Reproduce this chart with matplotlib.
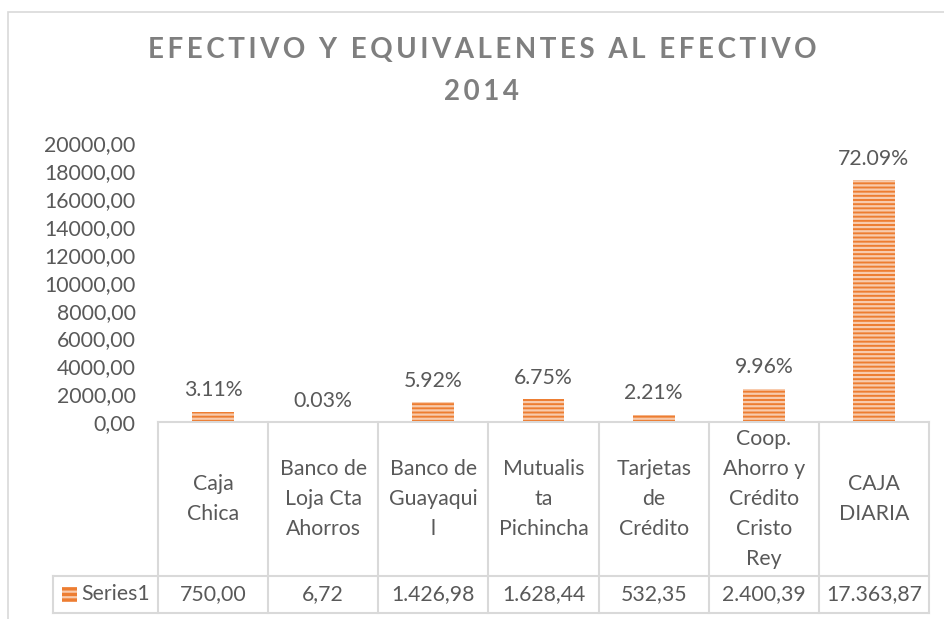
import matplotlib
matplotlib.use("Agg")
from matplotlib import pyplot as plt
from matplotlib.patches import Rectangle

plt.rcParams['font.family'] = ['Lato', 'DejaVu Sans']
plt.rcParams['hatch.linewidth'] = 1.6

# datos
categorias = ['Caja\nChica', 'Banco de\nLoja Cta\nAhorros', 'Banco de\nGuayaqui\nl',
              'Mutualis\nta\nPichincha', 'Tarjetas\nde\nCrédito',
              'Coop.\nAhorro y\nCrédito\nCristo\nRey', 'CAJA\nDIARIA']
valores = [750.00, 6.72, 1426.98, 1628.44, 532.35, 2400.39, 17363.87]
valores_txt = ['750,00', '6,72', '1.426,98', '1.628,44', '532,35', '2.400,39', '17.363,87']
porcentajes = ['3.11%', '0.03%', '5.92%', '6.75%', '2.21%', '9.96%', '72.09%']
serie = 'Series1'
yticks = list(range(0, 20001, 2000))

W, H = 944, 619
GRIS = '#595959'
LINEA = '#D9D9D9'
NARANJA = '#ED7D31'
FS = 15.3

fig = plt.figure(figsize=(W / 100, H / 100), dpi=100)

def fx(px):
    return px / W

def fy(py):
    return 1 - py / H

# marco del grafico
fig.patches.append(Rectangle((fx(8), fy(700)), fx(1000), 688 / H, transform=fig.transFigure,
                             fill=False, edgecolor=LINEA, linewidth=1.2))

# titulo con espaciado
def espaciar(t):
    return '\u2009'.join(t)

fig.text(fx(482), fy(50), espaciar('EFECTIVO Y EQUIVALENTES AL EFECTIVO'), ha='center', va='center',
         fontsize=20, fontweight='bold', color='#7F7F7F')
fig.text(fx(482), fy(92), espaciar('2014'), ha='center', va='center',
         fontsize=20, fontweight='bold', color='#7F7F7F')

x0, x1 = 158, 929
ytop, ybot = 143.5, 422
ax = fig.add_axes([fx(x0), fy(ybot), fx(x1 - x0), (ybot - ytop) / H])
n = len(valores)
xs = list(range(n))
ax.bar(xs, valores, width=0.38, color=NARANJA, edgecolor='#F8CBAD', hatch='----', linewidth=0)
ax.set_xlim(-0.5, n - 0.5)
ax.set_ylim(0, 20000)
ax.set_yticks(yticks)
ax.set_yticklabels([f'{v},00' for v in yticks])
ax.tick_params(axis='y', length=0, pad=16, labelsize=FS, labelcolor=GRIS)
ax.set_xticks([])
for s in ['top', 'right', 'left']:
    ax.spines[s].set_visible(False)
ax.spines['bottom'].set_color(LINEA)
ax.spines['bottom'].set_linewidth(1.5)

for x, v, p in zip(xs, valores, porcentajes):
    ax.annotate(p, (x, v), xytext=(0, 8), textcoords='offset points', ha='center', va='bottom',
                fontsize=FS, color=GRIS)

# tabla de datos
ancho = (x1 - x0) / n
y_sep, y_fin = 576, 613
lw = 1.5
for i in range(n + 1):
    xv = x0 + i * ancho
    fig.add_artist(plt.Line2D([fx(xv), fx(xv)], [fy(ybot), fy(y_fin)], color=LINEA, lw=lw))
fig.add_artist(plt.Line2D([fx(53), fx(x1)], [fy(y_sep), fy(y_sep)], color=LINEA, lw=lw))
fig.add_artist(plt.Line2D([fx(53), fx(x1)], [fy(y_fin), fy(y_fin)], color=LINEA, lw=lw))
fig.add_artist(plt.Line2D([fx(53), fx(53)], [fy(y_sep), fy(y_fin)], color=LINEA, lw=lw))

for i in range(n):
    cx = x0 + (i + 0.5) * ancho
    fig.text(fx(cx), fy((ybot + y_sep) / 2), categorias[i], ha='center', va='center',
             fontsize=FS, color=GRIS, linespacing=1.64)
    fig.text(fx(cx), fy((y_sep + y_fin) / 2), valores_txt[i], ha='center', va='center',
             fontsize=FS, color=GRIS)

fig.patches.append(Rectangle((fx(62), fy(602)), fx(15), 15 / H, transform=fig.transFigure,
                             facecolor=NARANJA, edgecolor='#F8CBAD', hatch='---', linewidth=0))
fig.text(fx(81), fy((y_sep + y_fin) / 2), serie, ha='left', va='center', fontsize=FS, color=GRIS)

fig.savefig('out.png', dpi=100)
